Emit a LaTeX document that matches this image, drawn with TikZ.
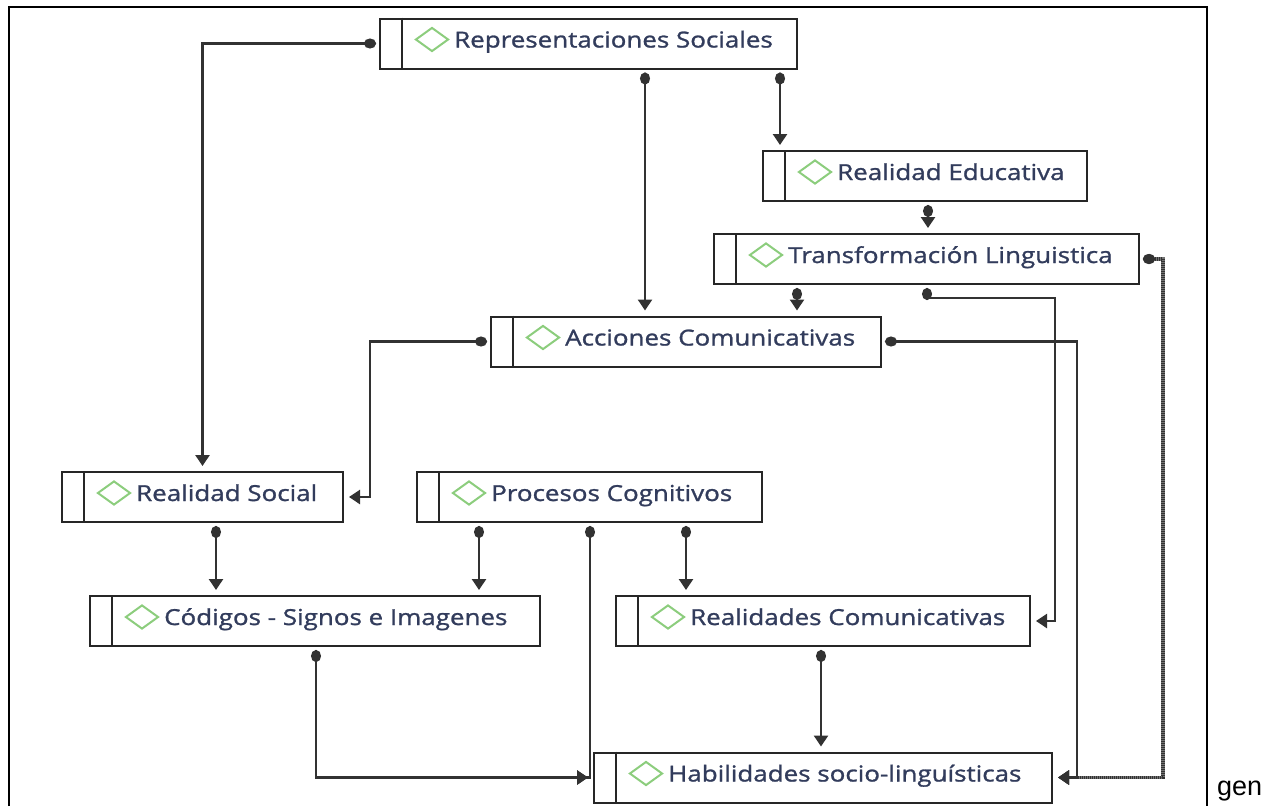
\documentclass[tikz,border=0pt]{standalone}
\usepackage{fontspec}
\setmainfont{Open Sans}[FakeStretch=1.18,FakeBold=1.2]
\newfontfamily\genfont{Liberation Sans}
\usetikzlibrary{%
  arrows.meta,%
  positioning,%
  shapes.geometric
}
\definecolor{conceptink}{RGB}{50,60,92}
\definecolor{icongreen}{RGB}{140,205,125}
\definecolor{linkgray}{RGB}{50,50,50}

% one concept box: name, centre, width, text
\newcommand{\concept}[4]{%
  \node [cbox,minimum width=#3] (#1) at (#2) {};
  \draw [cedge] ([xshift=23pt]#1.north west) -- ([xshift=23pt]#1.south west);
  \node [cicon] (#1-icon) at ([xshift=53pt,yshift=4pt]#1.west) {};
  \node [ctext] (#1-text) at ([xshift=75pt,yshift=-4pt]#1.west) {#4};
}

\begin{document}
\begin{tikzpicture}[x=1pt,y=-1pt,
    cedge/.style={draw=black!85,line width=2pt},
    cbox/.style={cedge,rectangle,minimum height=50pt,inner sep=0pt},
    cicon/.style={diamond,draw=icongreen,line width=2pt,minimum width=33pt,minimum height=24pt,inner sep=0pt},
    ctext/.style={anchor=base west,inner sep=0pt,text=conceptink,font=\fontsize{22}{26}\selectfont},
    link/.style={draw=linkgray,line width=2.5pt,
      {Circle[length=12pt,width=10pt]}-{Triangle[length=11pt,width=14pt]},
      shorten <=3pt,shorten >=5pt},
    hatched/.style={link,dash pattern=on 1pt off 1pt,line width=3.5pt,
      preaction={draw=black!55,line width=3.5pt,shorten <=3pt,shorten >=5pt}}]
  \useasboundingbox (0,0) rectangle (1268,806);
  \draw [line width=1.5pt] (9,806) -- (9,7) -- (1207,7) -- (1207,806);

  \concept{repsoc}{588.5,43.5}{417pt}{Representaciones Sociales}
  \concept{realedu}{925,176}{324pt}{Realidad Educativa}
  \concept{translin}{926.5,259}{425pt}{Transformación Linguistica}
  \concept{acccom}{686,341.5}{390pt}{Acciones Comunicativas}
  \concept{realsoc}{202.5,497}{281pt}{Realidad Social}
  \concept{proccog}{589.5,497}{345pt}{Procesos Cognitivos}
  \concept{codigos}{315,621}{450pt}{Códigos - Signos e Imagenes}
  \concept{realcom}{823,621}{414pt}{Realidades Comunicativas}
  \concept{habsoc}{823,777.5}{458pt}{Habilidades socio-linguísticas}

  \node [anchor=base west,inner sep=0pt,font=\genfont\fontsize{27}{32}\selectfont] (gen) at (1217,795) {gen};

  % connectors
  \draw [link] (repsoc.west) -| (realsoc.north);
  \draw [link] (645,0 |- repsoc.south) -- (645,0 |- acccom.north);
  \draw [link] (780,0 |- repsoc.south) -- (780,0 |- realedu.north);
  \draw [link] (928,0 |- realedu.south) -- (928,0 |- translin.north);
  \draw [link] (797,0 |- translin.south) -- (797,0 |- acccom.north);
  \draw [link] (927,0 |- translin.south) |- (1055,298) |- (realcom.east);
  \draw [hatched] (translin.east) -| (1163,0 |- habsoc.east) -- (habsoc.east);
  \draw [link] (acccom.east) -| (1077,0 |- habsoc.east) -- (habsoc.east);
  \draw [link] (acccom.west) -| (370,0 |- realsoc.east) -- (realsoc.east);
  \draw [link] (216,0 |- realsoc.south) -- (216,0 |- codigos.north);
  \draw [link] (479,0 |- proccog.south) -- (479,0 |- codigos.north);
  \draw [link] (686,0 |- proccog.south) -- (686,0 |- realcom.north);
  \draw [link] (590,0 |- proccog.south) |- (habsoc.west);
  \draw [link] (316,0 |- codigos.south) |- (habsoc.west);
  \draw [link] (821,0 |- realcom.south) -- (821,0 |- habsoc.north);
\end{tikzpicture}
\end{document}
